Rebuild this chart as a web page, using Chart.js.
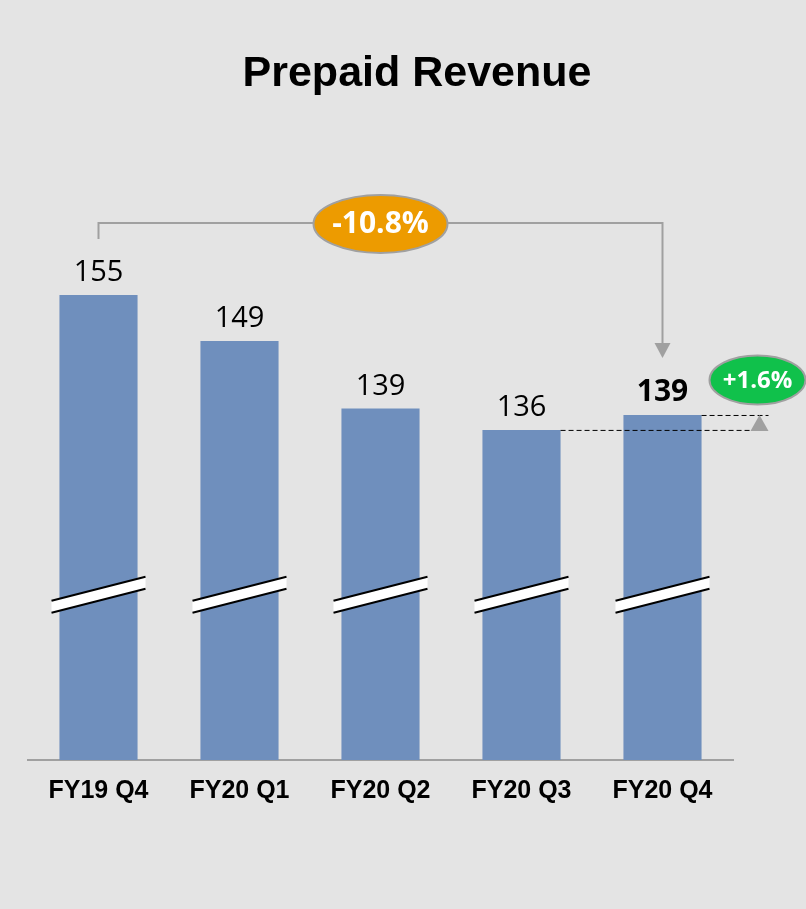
<!DOCTYPE html>
<html>
<head>
<meta charset="utf-8">
<title>Prepaid Revenue</title>
<script src="https://cdn.jsdelivr.net/npm/chart.js@4/dist/chart.umd.min.js"></script>
<style>
  html, body { margin: 0; padding: 0; background: #e4e4e4; }
  .wrap { width: 806px; height: 909px; }
</style>
</head>
<body>
<div class="wrap"><canvas id="revenueChart" width="806" height="909"></canvas></div>
<script>
const quarters = ['FY19 Q4', 'FY20 Q1', 'FY20 Q2', 'FY20 Q3', 'FY20 Q4'];
const revenue = [155.0, 148.5, 139.0, 136.0, 138.1];
const valueLabels = ['155', '149', '139', '136', '139'];
const yearChange = '-10.8%';
const quarterChange = '+1.6%';
const breakValue = 112.8;

const BAR = '#6f8fbd';
const GREY = '#a0a0a0';

// chart title, drawn a little right of the plot centre like the original slide
const titlePlugin = {
  id: 'slideTitle',
  afterDraw(chart) {
    const { ctx } = chart;
    ctx.save();
    ctx.fillStyle = '#000';
    ctx.font = 'bold 43px "Liberation Sans"';
    ctx.textAlign = 'center';
    ctx.textBaseline = 'alphabetic';
    ctx.fillText('Prepaid Revenue', 417, 86);
    ctx.restore();
  },
};

// value labels above each bar
const valueLabelPlugin = {
  id: 'valueLabels',
  afterDatasetsDraw(chart) {
    const { ctx } = chart;
    const bars = chart.getDatasetMeta(0).data;
    ctx.save();
    ctx.fillStyle = '#000';
    ctx.textAlign = 'center';
    ctx.textBaseline = 'alphabetic';
    bars.forEach((bar, i) => {
      const last = i === bars.length - 1;
      ctx.font = last ? 'bold 30px "Open Sans"' : '29px "Open Sans"';
      ctx.fillText(valueLabels[i], bar.x, bar.y - 14);
    });
    ctx.restore();
  },
};

// axis break strips across the bars
const axisBreakPlugin = {
  id: 'axisBreak',
  afterDatasetsDraw(chart) {
    const { ctx } = chart;
    const yc = chart.scales.y.getPixelForValue(breakValue);
    const bars = chart.getDatasetMeta(0).data;
    ctx.save();
    bars.forEach((bar) => {
      const l = bar.x - 47;
      const r = bar.x + 47;
      ctx.beginPath();
      ctx.moveTo(l, yc + 6);
      ctx.lineTo(r, yc - 18);
      ctx.lineTo(r, yc - 6);
      ctx.lineTo(l, yc + 18);
      ctx.closePath();
      ctx.fillStyle = '#fff';
      ctx.fill();
      ctx.strokeStyle = '#000';
      ctx.lineWidth = 2;
      ctx.beginPath();
      ctx.moveTo(l, yc + 6);
      ctx.lineTo(r, yc - 18);
      ctx.moveTo(l, yc + 18);
      ctx.lineTo(r, yc - 6);
      ctx.stroke();
    });
    ctx.restore();
  },
};

function drawBadge(ctx, x, y, rx, ry, fill, text, font) {
  ctx.beginPath();
  ctx.ellipse(x, y, rx, ry, 0, 0, Math.PI * 2);
  ctx.fillStyle = fill;
  ctx.fill();
  ctx.lineWidth = 2;
  ctx.strokeStyle = GREY;
  ctx.stroke();
  ctx.fillStyle = '#fff';
  ctx.font = font;
  ctx.textAlign = 'center';
  ctx.textBaseline = 'middle';
  ctx.fillText(text, x, y + 1);
}

// change annotations: year-on-year bracket and quarter-on-quarter marker
const changePlugin = {
  id: 'changes',
  afterDatasetsDraw(chart) {
    const { ctx } = chart;
    const bars = chart.getDatasetMeta(0).data;
    const first = bars[0];
    const prev = bars[bars.length - 2];
    const lastBar = bars[bars.length - 1];
    const mid = bars[2];
    const topY = first.y - 72;
    const tipY = lastBar.y - 57;

    ctx.save();
    ctx.strokeStyle = GREY;
    ctx.lineWidth = 2;
    ctx.beginPath();
    ctx.moveTo(first.x, first.y - 56);
    ctx.lineTo(first.x, topY);
    ctx.lineTo(lastBar.x, topY);
    ctx.lineTo(lastBar.x, tipY - 14);
    ctx.stroke();
    ctx.fillStyle = GREY;
    ctx.beginPath();
    ctx.moveTo(lastBar.x - 8, tipY - 15);
    ctx.lineTo(lastBar.x + 8, tipY - 15);
    ctx.lineTo(lastBar.x, tipY);
    ctx.closePath();
    ctx.fill();

    drawBadge(ctx, mid.x, topY + 1, 67, 29, '#ed9b00', yearChange, 'bold 30px "Open Sans"');

    // dashed guides from the last two bars
    const endX = lastBar.x + 106;
    ctx.strokeStyle = '#000';
    ctx.lineWidth = 1;
    ctx.setLineDash([5, 3]);
    ctx.beginPath();
    ctx.moveTo(prev.x + prev.width / 2, prev.y + 0.5);
    ctx.lineTo(endX, prev.y + 0.5);
    ctx.moveTo(lastBar.x + lastBar.width / 2, lastBar.y + 0.5);
    ctx.lineTo(endX, lastBar.y + 0.5);
    ctx.stroke();
    ctx.setLineDash([]);

    const ax = lastBar.x + 97;
    ctx.fillStyle = GREY;
    ctx.beginPath();
    ctx.moveTo(ax, lastBar.y);
    ctx.lineTo(ax + 9, prev.y + 1);
    ctx.lineTo(ax - 9, prev.y + 1);
    ctx.closePath();
    ctx.fill();

    drawBadge(ctx, lastBar.x + 95, lastBar.y - 35, 48, 24.5, '#10c14b', quarterChange, 'bold 24px "Open Sans"');
    ctx.restore();
  },
};

new Chart(document.getElementById('revenueChart'), {
  type: 'bar',
  data: {
    labels: quarters,
    datasets: [
      {
        data: revenue,
        backgroundColor: BAR,
        categoryPercentage: 1,
        barPercentage: 0.554,
      },
    ],
  },
  options: {
    responsive: false,
    animation: false,
    layout: { padding: { left: 28, right: 73, top: 119, bottom: 95 } },
    plugins: {
      legend: { display: false },
      tooltip: { enabled: false },
      title: { display: false },
    },
    scales: {
      x: {
        grid: { display: false },
        border: { color: GREY, width: 2 },
        ticks: {
          color: '#000',
          padding: 8,
          font: { family: '"Liberation Sans"', size: 25, weight: 'bold' },
        },
      },
      y: { display: false, min: 89.55, max: 179.75 },
    },
  },
  plugins: [axisBreakPlugin, valueLabelPlugin, changePlugin, titlePlugin],
});
</script>
</body>
</html>
